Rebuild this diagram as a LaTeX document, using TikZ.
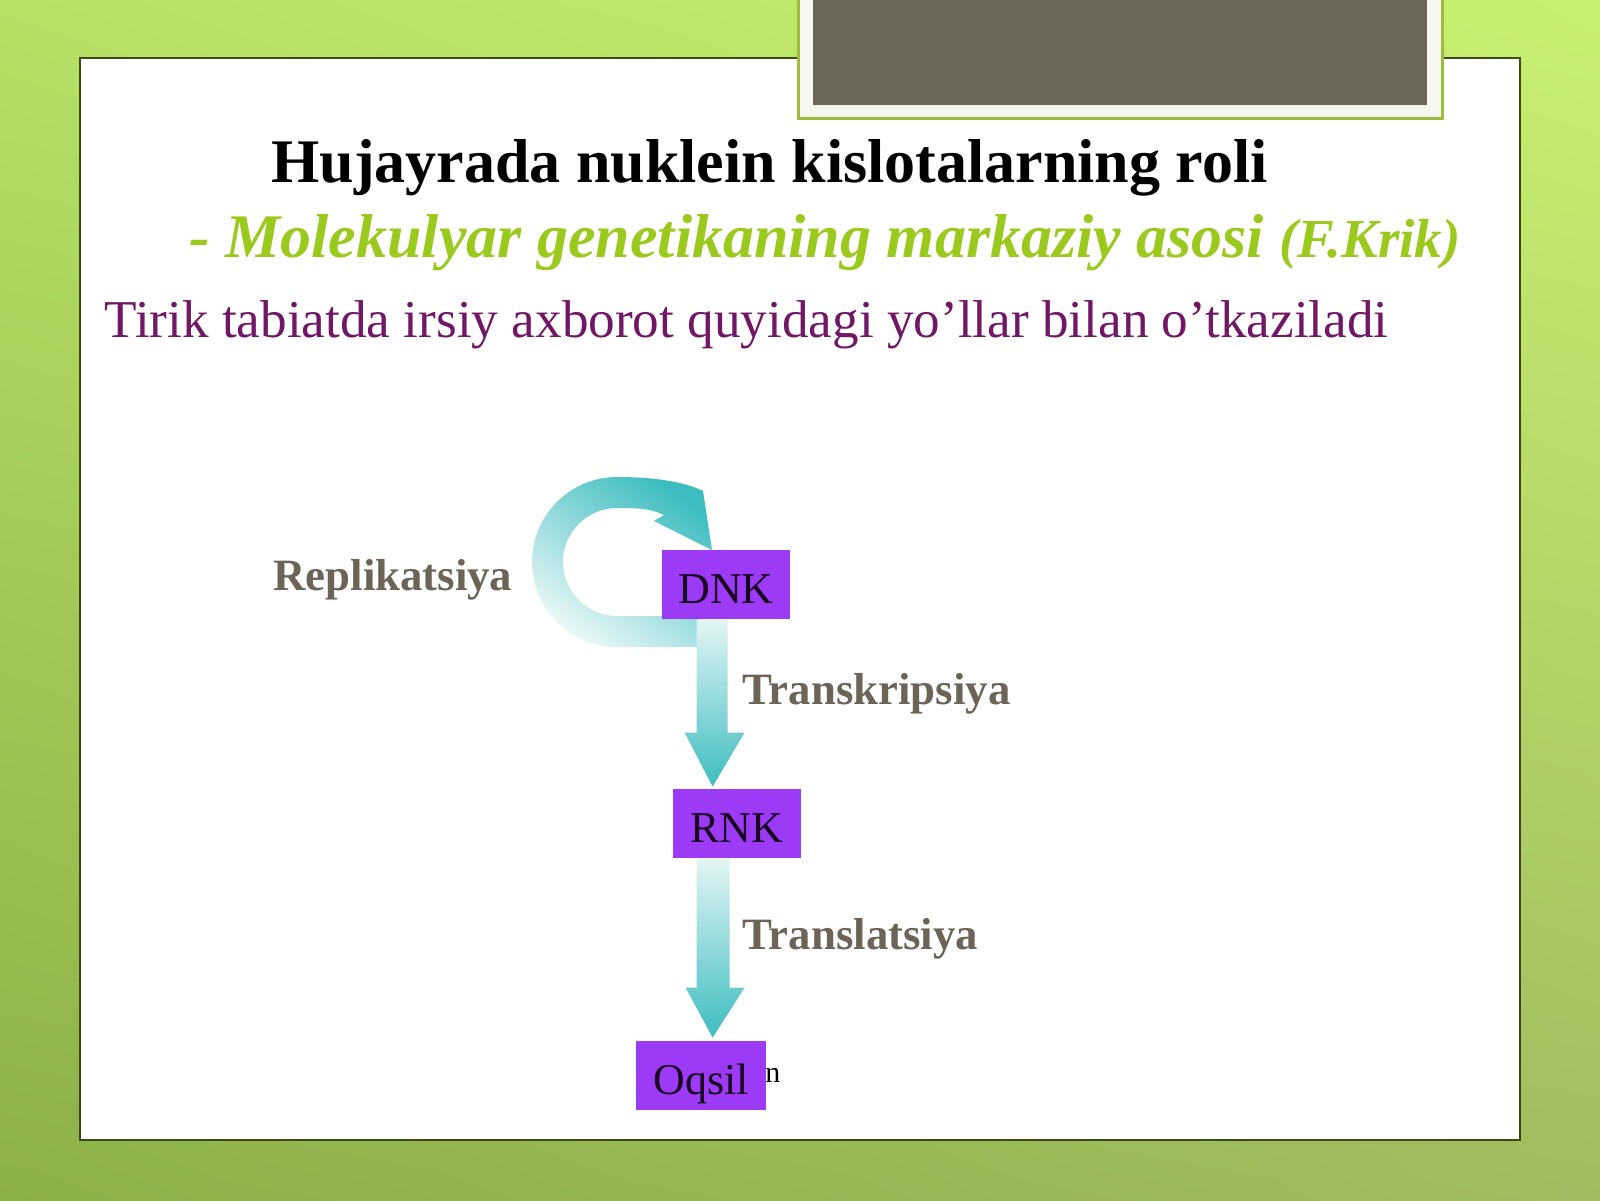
\documentclass[tikz,border=0pt]{standalone}
\usepackage{fontspec}
\setmainfont{Liberation Serif}
\usetikzlibrary{calc,shadings}

\definecolor{bgtl}{HTML}{B6E064}
\definecolor{bgtr}{HTML}{C8F070}
\definecolor{bgbl}{HTML}{8CB048}
\definecolor{bgbr}{HTML}{A0BC60}
\definecolor{panelline}{HTML}{3C4A14}
\definecolor{frameline}{HTML}{9DBB3C}
\definecolor{framewhite}{HTML}{F7F7F2}
\definecolor{framegray}{HTML}{6E6758}
\definecolor{subgreen}{HTML}{9BC91E}
\definecolor{intropurple}{HTML}{701866}
\definecolor{labelgray}{HTML}{6B6457}
\definecolor{boxpurple}{HTML}{9B3BF5}
\definecolor{boxtext}{HTML}{1A0020}
\definecolor{arrowteal}{HTML}{3DBDC0}
\definecolor{arrowlight}{HTML}{E4F5F5}

\begin{document}
\begin{tikzpicture}[x=0.5pt,y=0.5pt,yscale=-1,xscale=1,
  genebox/.style={fill=boxpurple, text=boxtext, inner sep=0pt, minimum width=64pt, minimum height=34.5pt, text height=18.5pt, text depth=0pt, font=\fontsize{22}{26}\selectfont},
  proclabel/.style={anchor=base west, inner sep=0pt, text=labelgray, font=\bfseries\fontsize{22.4}{26}\selectfont},
  arrowfill/.style={top color=arrowlight, bottom color=arrowteal}]
\useasboundingbox (0,0) rectangle (1600,1200);

%Background
\shade[upper left=bgtl, upper right=bgtr, lower left=bgbl, lower right=bgbr] (0,0) rectangle (1600,1200);
%White panel
\draw[panelline, fill=white, line width=1] (80,58) rectangle (1520,1140);
%Gray frame at the top
\draw[frameline, fill=framewhite, line width=1.5] (798,-5) rectangle (1442,118);
\fill[framegray] (813,-5) rectangle (1427,105);

% Text Node
\node (title) [anchor=base west, inner sep=0pt, font=\bfseries\fontsize{31}{37}\selectfont] at (271,182) {Hujayrada nuklein kislotalarning roli};
% Text Node
\node (subtitle) [anchor=base west, inner sep=0pt, text=subgreen, font=\bfseries\itshape\fontsize{31}{37}\selectfont] at (189,257) {- Molekulyar genetikaning markaziy asosi {\fontsize{27.5}{32}\selectfont(F.Krik)}};
% Text Node
\node (intro) [anchor=base west, inner sep=0pt, text=intropurple, font=\fontsize{26.6}{32}\selectfont] at (104,337) {Tirik tabiatda irsiy axborot quyidagi yo’llar bilan o’tkaziladi};

%Replication ring
\shade[top color=arrowteal, bottom color=arrowlight!80!white, shading angle=-35] (700,647) -- (617,647) arc[start angle=90, end angle=270, radius=85] .. controls (655,477) and (685,482) .. (703,491) -- (712,550) -- (654,521) -- (664,515) .. controls (650,508) and (635,508) .. (617,508) arc[start angle=270, end angle=90, radius=54] -- (700,616) -- cycle;

%Boxes
\node (dnk) [genebox] at (726,584.5) {DNK};
\node (rnk) [genebox] at (737,823.5) {RNK};
\node (oqsil) [genebox, minimum width=65pt] at (701,1075.5) {Oqsil};
\node (oqsiln) [anchor=base west, inner sep=0pt, font=\fontsize{15}{18}\selectfont] at (765,1082) {n};

%Straight arrows
\coordinate (t1) at ($(dnk.south west)+(51,0)$);
\coordinate (h1) at ($(rnk.north west)+(40,-2)$);
\coordinate (t2) at ($(rnk.south west)+(40,0)$);
\coordinate (h2) at ($(oqsil.north west)+(77,-3)$);
\shade[arrowfill] ($(t1)+(-16,0)$) -- ($(h1)+(-16,-54)$) -- ($(h1)+(-28,-54)$) -- (h1) -- ($(h1)+(32,-54)$) -- ($(h1)+(15,-54)$) -- ($(t1)+(15,0)$) -- cycle;
\shade[arrowfill] ($(t2)+(-16,0)$) -- ($(h2)+(-16,-50)$) -- ($(h2)+(-27,-50)$) -- (h2) -- ($(h2)+(32,-50)$) -- ($(h2)+(17,-50)$) -- ($(t2)+(17,0)$) -- cycle;
\node[genebox] at (dnk) {DNK};
\node[genebox] at (rnk) {RNK};

% Text Node
\node (replik) [proclabel] at (273,590) {Replikatsiya};
% Text Node
\node (transk) [proclabel] at (742,704) {Transkripsiya};
% Text Node
\node (transl) [proclabel] at (742,949) {Translatsiya};

\end{tikzpicture}
\end{document}
